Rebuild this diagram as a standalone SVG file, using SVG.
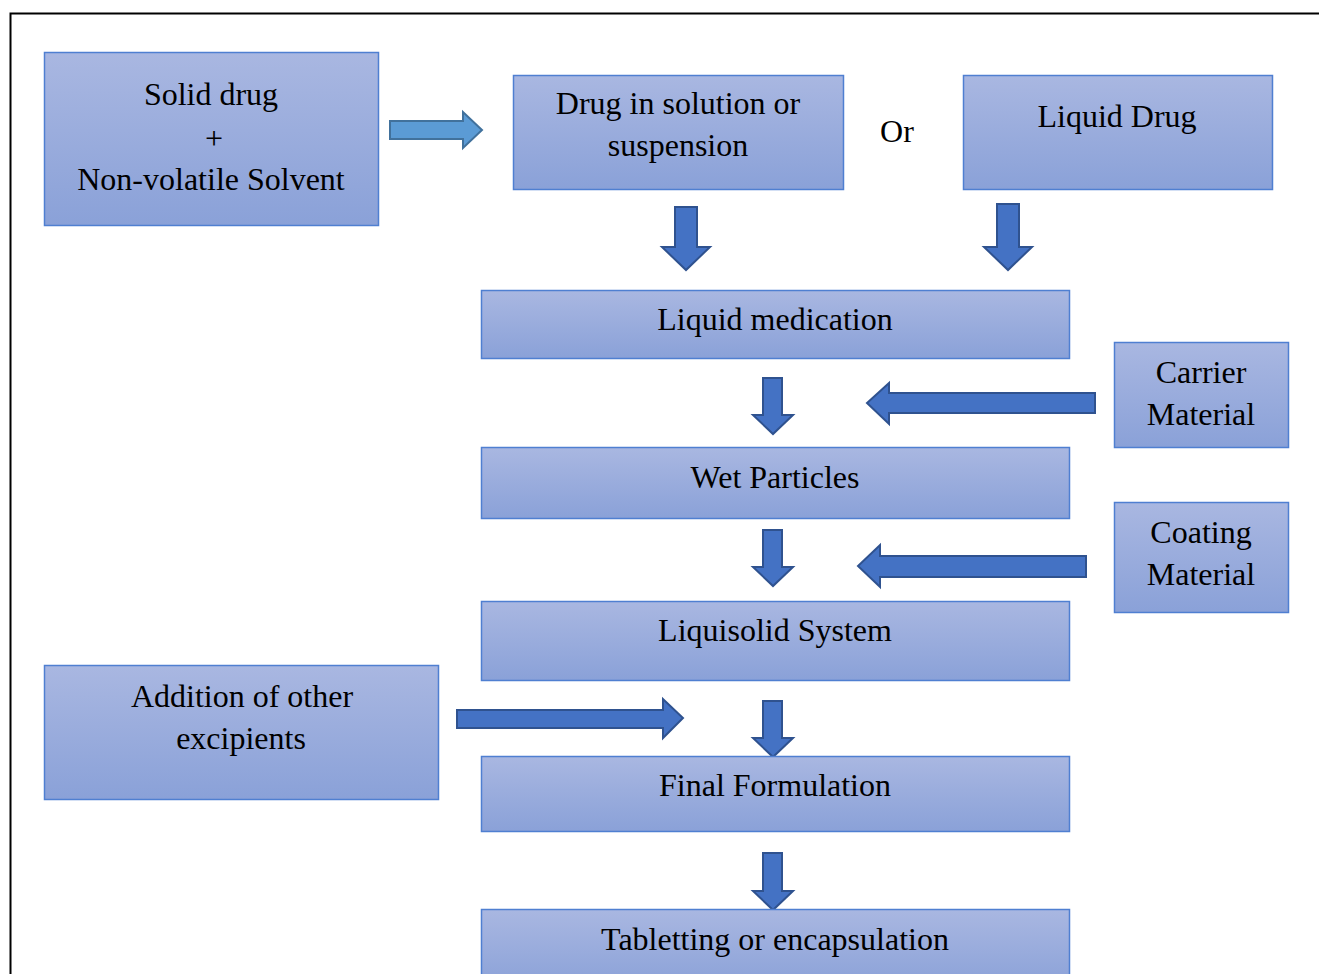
<svg xmlns="http://www.w3.org/2000/svg" width="1319" height="974" viewBox="0 0 1319 974">
<defs>
<linearGradient id="g" x1="0" y1="0" x2="0" y2="1">
<stop offset="0" stop-color="#A9B7E1"/>
<stop offset="1" stop-color="#8AA1D8"/>
</linearGradient>
<style>
.box{fill:url(#g);stroke:#4F7FD1;stroke-width:1.5}
.t{font-family:"Liberation Serif","Times New Roman",serif;font-size:32px;fill:#000;text-anchor:middle}
.ar{fill:#4472C4;stroke:#2F528F;stroke-width:2;stroke-linejoin:miter}
.ar2{fill:#5B9BD5;stroke:#41719C;stroke-width:2}
</style>
</defs>
<rect x="10.5" y="13.5" width="1330" height="1000" fill="#fff" stroke="#000" stroke-width="2"/>
<g id="connectors">
<path class="ar2" d="M390,121 L463,121 L463,112 L482,130 L463,148 L463,139 L390,139 Z"/>
<path class="ar" d="M675,207 L697,207 L697,247 L710,247 L686,270 L662,247 L675,247 Z"/>
<path class="ar" d="M997,204 L1019,204 L1019,247 L1032,247 L1008,270 L984,247 L997,247 Z"/>
<path class="ar" d="M763,378 L782,378 L782,415 L793,415 L773,434 L753,415 L763,415 Z"/>
<path class="ar" d="M1095,393 L889,393 L889,383 L867,403 L889,424 L889,413 L1095,413 Z"/>
<path class="ar" d="M763,530 L782,530 L782,567 L793,567 L773,586 L753,567 L763,567 Z"/>
<path class="ar" d="M1086,556 L880,556 L880,545 L858,566 L880,587 L880,577 L1086,577 Z"/>
<path class="ar" d="M457,710 L663,710 L663,699 L683,718 L663,738 L663,728 L457,728 Z"/>
<path class="ar" d="M763,701 L782,701 L782,738 L793,738 L773,757 L753,738 L763,738 Z"/>
<path class="ar" d="M763,853 L782,853 L782,891 L793,891 L773,910 L753,891 L763,891 Z"/>
</g>
<g id="solid">
<rect class="box" x="44.5" y="52.5" width="334" height="173"/>
<text class="t" x="211" y="105">Solid drug</text>
<text class="t" x="214" y="149">+</text>
<text class="t" x="211" y="190">Non-volatile Solvent</text>
</g>
<g id="drugsol">
<rect class="box" x="513.5" y="75.5" width="330" height="114"/>
<text class="t" x="678" y="114">Drug in solution or</text>
<text class="t" x="678" y="156">suspension</text>
</g>
<g id="or">
<text class="t" x="897" y="142">Or</text>
</g>
<g id="liquiddrug">
<rect class="box" x="963.5" y="75.5" width="309" height="114"/>
<text class="t" x="1117" y="127">Liquid Drug</text>
</g>
<g id="liqmed">
<rect class="box" x="481.5" y="290.5" width="588" height="68"/>
<text class="t" x="775" y="330">Liquid medication</text>
</g>
<g id="carrier">
<rect class="box" x="1114.5" y="342.5" width="174" height="105"/>
<text class="t" x="1201" y="383">Carrier</text>
<text class="t" x="1201" y="425">Material</text>
</g>
<g id="wet">
<rect class="box" x="481.5" y="447.5" width="588" height="71"/>
<text class="t" x="775" y="488">Wet Particles</text>
</g>
<g id="coating">
<rect class="box" x="1114.5" y="502.5" width="174" height="110"/>
<text class="t" x="1201" y="543">Coating</text>
<text class="t" x="1201" y="585">Material</text>
</g>
<g id="liquisolid">
<rect class="box" x="481.5" y="601.5" width="588" height="79"/>
<text class="t" x="775" y="641">Liquisolid System</text>
</g>
<g id="addition">
<rect class="box" x="44.5" y="665.5" width="394" height="134"/>
<text class="t" x="242" y="707">Addition of other</text>
<text class="t" x="241" y="749">excipients</text>
</g>
<g id="final">
<rect class="box" x="481.5" y="756.5" width="588" height="75"/>
<text class="t" x="775" y="796">Final Formulation</text>
</g>
<g id="tablet">
<rect class="box" x="481.5" y="909.5" width="588" height="80"/>
<text class="t" x="775" y="950">Tabletting or encapsulation</text>
</g>
</svg>
